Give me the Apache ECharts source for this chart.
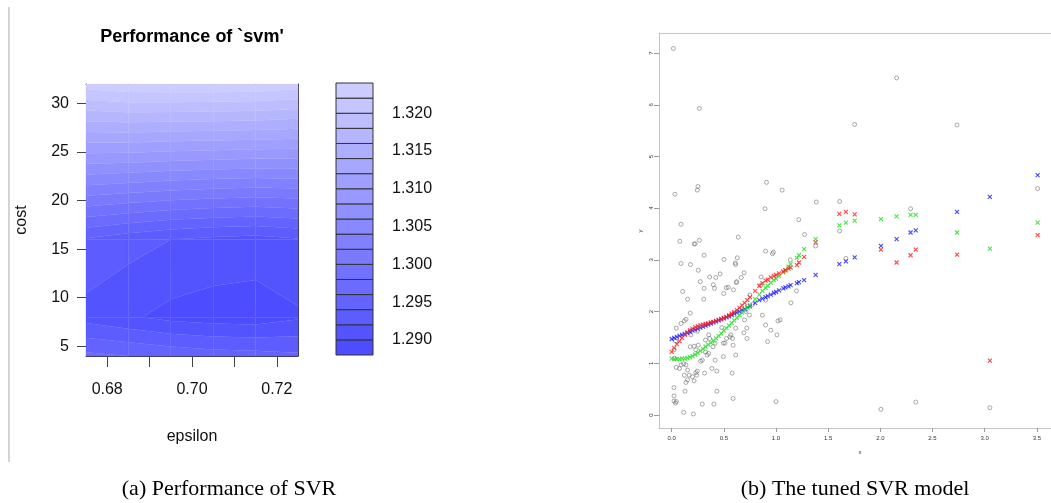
<!DOCTYPE html>
<html><head><meta charset="utf-8">
<script src="https://cdn.jsdelivr.net/npm/echarts@6/dist/echarts.min.js"></script>
<style>html,body{margin:0;padding:0;background:#fff}#c{width:1051px;height:503px}</style>
</head><body><div id="c"></div>
<script>
// ---------- (a) tune performance grid ----------
const epsilonValues = [0.675, 0.685, 0.695, 0.705, 0.715, 0.725];
const costValues = [4, 8, 16, 32];
const perfCost4  = [1.2965, 1.2960, 1.2955, 1.2950, 1.2948, 1.2944];
const perfCost8  = [1.2912, 1.2903, 1.2894, 1.2890, 1.2889, 1.2897];
const perfCost16 = [1.2938, 1.2928, 1.2920, 1.2915, 1.2912, 1.2918];
const perfCost32 = [1.3230, 1.3236, 1.3237, 1.3237, 1.3236, 1.3230];
const levelBreaks = [1.288, 1.290, 1.292, 1.294, 1.296, 1.298, 1.300, 1.302, 1.304, 1.306,
                     1.308, 1.310, 1.312, 1.314, 1.316, 1.318, 1.320, 1.322, 1.324];
const levelColors = ['#4d4dff','#5454ff','#5c5cff','#6363ff','#6b6bff','#7272ff','#7a7aff','#8181ff','#8989ff',
                     '#9090ff','#9898ff','#9f9fff','#a7a7ff','#aeaeff','#b6b6ff','#bdbdff','#c5c5ff','#ccccff'];
const epsilonTicks = [0.68, 0.69, 0.70, 0.71, 0.72];
const epsilonLabels = [0.68, 0.70, 0.72];
const costTicks = [5, 10, 15, 20, 25, 30];
const keyTicks = [1.290, 1.295, 1.300, 1.305, 1.310, 1.315, 1.320];

// ---------- (b) tuned SVR model ----------
const observations = [
 [0.016,7.09],[2.156,6.52],[0.265,5.93],[1.754,5.62],[2.735,5.61],[0.909,4.50],[0.252,4.42],[0.246,4.35],
 [1.059,4.35],[0.031,4.27],[3.508,4.38],[1.386,4.12],[1.61,4.13],[0.894,3.99],[2.29,3.99],[1.218,3.78],
 [0.09,3.69],[1.274,3.49],[1.61,3.56],[0.638,3.44],[0.078,3.36],[0.265,3.38],[0.215,3.31],[0.225,3.31],
 [1.38,3.27],[0.9,3.17],[0.966,3.12],[0.975,3.15],[1.137,3.0],[1.67,3.03],[0.311,3.09],[0.502,3.01],
 [0.629,3.04],[0.61,2.94],[0.613,2.91],[0.18,2.91],[0.09,2.93],[0.255,2.80],[0.694,2.75],[0.667,2.66],
 [0.423,2.66],[0.364,2.67],[0.464,2.73],[0.857,2.67],[0.623,2.58],[0.619,2.56],[0.274,2.58],[0.399,2.52],
 [0.523,2.46],[0.592,2.42],[0.311,2.45],[0.411,2.45],[0.106,2.39],[0.542,2.47],[0.498,2.35],[0.75,2.32],
 [0.854,2.51],[1.143,2.17],[1.196,2.40],[0.152,2.24],[0.308,2.24],[0.9,2.22],[0.776,2.14],
 [0.178,1.97],[0.137,1.85],[0.121,1.82],[0.09,1.77],[0.044,1.68],[0.869,1.93],[1.019,1.82],[0.9,1.74],
 [0.95,1.64],[0.919,1.42],[0.745,1.93],[0.713,2.0],[0.698,1.84],[0.72,1.68],[0.722,1.48],[0.692,1.59],
 [0.614,1.68],[0.567,1.55],[0.583,1.48],[0.558,1.51],[0.526,1.48],[0.48,1.69],[0.511,1.39],[0.495,1.39],
 [0.589,1.35],[0.614,1.16],[0.58,0.81],[0.589,0.32],[0.355,1.55],[0.364,1.48],[0.396,1.32],[0.417,1.39],
 [0.324,1.45],[0.324,1.22],[0.34,1.16],[0.355,1.19],[0.293,1.06],[0.277,1.04],[0.231,1.26],[0.255,1.35],
 [0.184,1.55],[0.178,1.32],[0.215,1.33],[0.246,1.62],[0.037,1.43],[0.022,1.26],[0.028,1.10],[0.044,0.92],
 [0.075,0.90],[0.115,0.99],[0.09,0.97],[0.137,0.97],[0.152,0.87],[0.121,0.77],[0.168,0.77],[0.152,0.68],
 [0.199,0.74],[0.231,0.82],[0.246,0.85],[0.24,0.77],[0.215,0.66],[0.137,0.63],[0.315,0.81],[0.386,0.90],
 [0.433,0.85],[0.417,1.06],[0.495,1.13],[0.433,0.46],[0.022,0.53],[0.022,0.37],[0.044,0.26],[0.022,0.27],
 [0.037,0.23],[0.115,0.05],[0.208,0.02],[0.293,0.21],[0.405,0.21],[0.128,0.46],[1.04,1.84],[1.009,1.55],
 [1.0,0.26],[2.006,0.11],[2.34,0.25],[3.05,0.14]
];
const fitX = [0,0.025,0.05,0.075,0.1,0.125,0.15,0.175,0.2,0.225,0.25,0.275,0.3,0.325,0.35,0.375,0.4,0.425,
 0.45,0.475,0.5,0.525,0.55,0.575,0.6,0.625,0.65,0.675,0.7,0.725,0.75,
 0.80,0.84,0.87,0.90,0.92,0.95,0.98,1.00,1.03,1.07,1.09,1.12,1.14,1.20,1.22,1.27,1.38,
 1.607,1.67,1.754,2.006,2.156,2.29,2.34,2.735,3.05,3.508];
const fitRed = [1.22,1.30,1.37,1.43,1.49,1.55,1.60,1.64,1.67,1.70,1.72,1.74,1.75,1.76,1.77,1.79,1.80,1.82,
 1.84,1.86,1.88,1.90,1.93,1.96,1.99,2.03,2.07,2.12,2.17,2.22,2.28,
 2.40,2.50,2.55,2.60,2.62,2.66,2.69,2.71,2.74,2.78,2.80,2.83,2.85,2.90,2.95,3.06,3.34,
 3.89,3.93,3.88,3.20,2.95,3.09,3.20,3.10,1.05,3.48];
const fitGreen = [1.09,1.08,1.08,1.08,1.09,1.09,1.10,1.12,1.14,1.17,1.20,1.24,1.28,1.32,1.36,1.40,1.44,1.48,
 1.53,1.58,1.63,1.68,1.73,1.78,1.83,1.88,1.93,1.98,2.03,2.08,2.13,
 2.24,2.33,2.40,2.46,2.50,2.56,2.61,2.64,2.69,2.76,2.80,2.87,2.92,3.04,3.09,3.21,3.40,
 3.67,3.72,3.76,3.79,3.84,3.87,3.87,3.53,3.22,3.72];
const fitBlue = [1.47,1.49,1.51,1.53,1.55,1.57,1.59,1.61,1.63,1.65,1.67,1.69,1.71,1.73,1.75,1.77,1.79,1.81,
 1.83,1.85,1.87,1.89,1.91,1.93,1.96,1.98,2.00,2.03,2.05,2.08,2.10,
 2.17,2.22,2.25,2.28,2.30,2.33,2.36,2.38,2.41,2.45,2.47,2.49,2.51,2.55,2.57,2.61,2.71,
 2.92,2.97,3.05,3.27,3.40,3.53,3.57,3.93,4.22,4.64];
const xTicks = [0, 0.5, 1.0, 1.5, 2.0, 2.5, 3.0, 3.5];
const yTicks = [0, 1, 2, 3, 4, 5, 6, 7];

// ---------- build helpers ----------
const perfRows = [perfCost4, perfCost8, perfCost16, perfCost32];
const cells = [];
for (let j = 0; j < costValues.length - 1; j++) {
  for (let i = 0; i < epsilonValues.length - 1; i++) {
    cells.push([epsilonValues[i], epsilonValues[i + 1], costValues[j], costValues[j + 1],
      perfRows[j][i], perfRows[j][i + 1], perfRows[j + 1][i + 1], perfRows[j + 1][i]]);
  }
}
const keyBoxes = levelColors.map((c, k) => [0, 1, levelBreaks[k], levelBreaks[k + 1], k]);
const pairs = (xs, ys) => xs.map((x, k) => [x, ys[k]]);

function crossPt(A, B, L) {
  const t = (L - A[2]) / (B[2] - A[2]);
  return [A[0] + t * (B[0] - A[0]), A[1] + t * (B[1] - A[1]), L];
}
function clipPoly(poly, L, above) {
  const out = [];
  const inside = p => above ? p[2] >= L : p[2] <= L;
  for (let m = 0; m < poly.length; m++) {
    const A = poly[m], B = poly[(m + 1) % poly.length];
    const ia = inside(A), ib = inside(B);
    if (ia && ib) out.push(B);
    else if (ia && !ib) out.push(crossPt(A, B, L));
    else if (!ia && ib) { out.push(crossPt(A, B, L)); out.push(B); }
  }
  return out;
}
function renderContourCell(params, api) {
  const v = k => api.value(k);
  const corners = [[v(0), v(2), v(4)], [v(1), v(2), v(5)], [v(1), v(3), v(6)], [v(0), v(3), v(7)]];
  const children = [];
  for (let k = 0; k < levelColors.length; k++) {
    let poly = clipPoly(corners, levelBreaks[k], true);
    if (poly.length >= 3) poly = clipPoly(poly, levelBreaks[k + 1], false);
    if (poly.length >= 3) {
      children.push({ type: 'polygon', shape: { points: poly.map(p => api.coord([p[0], p[1]])) },
        style: { fill: levelColors[k], stroke: levelColors[k], lineWidth: 0.3 } });
    }
  }
  return { type: 'group', children };
}
function renderKeyBox(params, api) {
  const p1 = api.coord([api.value(0), api.value(3)]);
  const p2 = api.coord([api.value(1), api.value(2)]);
  return { type: 'rect', shape: { x: p1[0], y: p1[1], width: p2[0] - p1[0], height: p2[1] - p1[1] },
    style: { fill: levelColors[api.value(4)], stroke: '#333', lineWidth: 1 } };
}

const SANS = 'Liberation Sans, Arial, sans-serif';
const SERIF = 'Liberation Serif, Times New Roman, serif';
const xMark = 'path://M0,0L10,10M10,0L0,10';

const chart = echarts.init(document.getElementById('c'), null, { renderer: 'canvas' });
chart.setOption({
  animation: false,
  backgroundColor: '#fff',
  grid: [
    { left: 86, top: 84, width: 212, height: 272 },
    { left: 336, top: 83, width: 37, height: 272 },
    { left: 659, top: 33, width: 402, height: 395 }
  ],
  xAxis: [
    { gridIndex: 0, type: 'value', min: 0.675, max: 0.725, position: 'bottom',
      axisLine: { show: true, onZero: false, lineStyle: { color: '#3a3a4a', width: 1 } },
      axisTick: { show: true, customValues: epsilonTicks, length: 11, lineStyle: { color: '#444' } },
      axisLabel: { customValues: epsilonLabels, formatter: v => v.toFixed(2), fontSize: 16, color: '#111', fontFamily: SANS, margin: 26 },
      splitLine: { show: false } },
    { gridIndex: 0, type: 'value', min: 0.675, max: 0.725, position: 'top',
      axisLine: { show: true, onZero: false, lineStyle: { color: '#3a3a4a', width: 1 } },
      axisTick: { show: false }, axisLabel: { show: false }, splitLine: { show: false } },
    { gridIndex: 1, type: 'value', min: 0, max: 1, show: false },
    { gridIndex: 2, type: 'value', min: -0.1215, max: 3.636, position: 'bottom',
      axisLine: { show: true, onZero: false, lineStyle: { color: '#c4c4c4', width: 1 } },
      axisTick: { show: true, customValues: xTicks, length: 4, lineStyle: { color: '#999' } },
      axisLabel: { customValues: xTicks, formatter: v => v.toFixed(1), fontSize: 6, color: '#333', fontFamily: SANS, margin: 7 },
      splitLine: { show: false } },
    { gridIndex: 2, type: 'value', min: -0.1215, max: 3.636, position: 'top',
      axisLine: { show: true, onZero: false, lineStyle: { color: '#c4c4c4', width: 1 } },
      axisTick: { show: false }, axisLabel: { show: false }, splitLine: { show: false } }
  ],
  yAxis: [
    { gridIndex: 0, type: 'value', min: 4, max: 32, position: 'left',
      axisLine: { show: true, onZero: false, lineStyle: { color: '#3a3a4a', width: 1 } },
      axisTick: { show: true, customValues: costTicks, length: 9, lineStyle: { color: '#444' } },
      axisLabel: { customValues: costTicks, fontSize: 16, color: '#111', fontFamily: SANS, margin: 17 },
      splitLine: { show: false } },
    { gridIndex: 0, type: 'value', min: 4, max: 32, position: 'right',
      axisLine: { show: true, onZero: false, lineStyle: { color: '#3a3a4a', width: 1 } },
      axisTick: { show: false }, axisLabel: { show: false }, splitLine: { show: false } },
    { gridIndex: 1, type: 'value', min: 1.288, max: 1.324, position: 'right',
      axisLine: { show: false },
      axisTick: { show: true, customValues: keyTicks, length: 9, lineStyle: { color: '#444' } },
      axisLabel: { customValues: keyTicks, formatter: v => v.toFixed(3), fontSize: 16, color: '#111', fontFamily: SANS, margin: 19 },
      splitLine: { show: false } },
    { gridIndex: 2, type: 'value', min: -0.2515, max: 7.389, position: 'left',
      axisLine: { show: true, onZero: false, lineStyle: { color: '#c4c4c4', width: 1 } },
      axisTick: { show: true, customValues: yTicks, length: 5, lineStyle: { color: '#999' } },
      axisLabel: { customValues: yTicks, rotate: 90, fontSize: 6, color: '#333', fontFamily: SANS, margin: 5 },
      splitLine: { show: false } }
  ],
  series: [
    { type: 'custom', name: 'performance', xAxisIndex: 0, yAxisIndex: 0, data: cells,
      encode: { x: [0, 1], y: [2, 3] }, renderItem: renderContourCell, silent: true, z: 1 },
    { type: 'custom', name: 'key', xAxisIndex: 2, yAxisIndex: 2, data: keyBoxes,
      encode: { x: [0, 1], y: [2, 3] }, renderItem: renderKeyBox, silent: true },
    { type: 'scatter', name: 'observed', xAxisIndex: 3, yAxisIndex: 3, data: observations,
      symbol: 'circle', symbolSize: 4, silent: true,
      itemStyle: { color: 'transparent', borderColor: '#666', borderWidth: 0.7 } },
    { type: 'scatter', name: 'blue fit', xAxisIndex: 3, yAxisIndex: 3, data: pairs(fitX, fitBlue),
      symbol: xMark, symbolSize: 4, silent: true,
      itemStyle: { color: 'transparent', borderColor: '#1a1aff', borderWidth: 1.1, opacity: 0.8 } },
    { type: 'scatter', name: 'green fit', xAxisIndex: 3, yAxisIndex: 3, data: pairs(fitX, fitGreen),
      symbol: xMark, symbolSize: 4, silent: true,
      itemStyle: { color: 'transparent', borderColor: '#1ae01a', borderWidth: 1.1, opacity: 0.8 } },
    { type: 'scatter', name: 'red fit', xAxisIndex: 3, yAxisIndex: 3, data: pairs(fitX, fitRed),
      symbol: xMark, symbolSize: 4, silent: true,
      itemStyle: { color: 'transparent', borderColor: '#ff1a1a', borderWidth: 1.1, opacity: 0.8 } }
  ],
  graphic: [
    { type: 'line', shape: { x1: 9, y1: 7, x2: 9, y2: 462 }, style: { stroke: '#d4d4d4', lineWidth: 2 }, silent: true },
    { type: 'text', x: 192, y: 37, style: { text: "Performance of `svm'", font: 'bold 18px ' + SANS, fill: '#000', textAlign: 'center', textVerticalAlign: 'middle' } },
    { type: 'text', x: 22, y: 220, rotation: Math.PI / 2, style: { text: 'cost', font: '16px ' + SANS, fill: '#111', textAlign: 'center', textVerticalAlign: 'middle' } },
    { type: 'text', x: 192, y: 437, style: { text: 'epsilon', font: '16px ' + SANS, fill: '#111', textAlign: 'center', textVerticalAlign: 'middle' } },
    { type: 'text', x: 640, y: 231, rotation: Math.PI / 2, style: { text: 'y', font: '6px ' + SANS, fill: '#333', textAlign: 'center', textVerticalAlign: 'middle' } },
    { type: 'text', x: 860, y: 452, style: { text: 'x', font: '6px ' + SANS, fill: '#333', textAlign: 'center', textVerticalAlign: 'middle' } },
    { type: 'text', x: 229, y: 489, style: { text: '(a) Performance of SVR', font: '22px ' + SERIF, fill: '#000', textAlign: 'center', textVerticalAlign: 'middle' } },
    { type: 'text', x: 855, y: 489, style: { text: '(b) The tuned SVR model', font: '22px ' + SERIF, fill: '#000', textAlign: 'center', textVerticalAlign: 'middle' } }
  ]
});
</script>
</body></html>
